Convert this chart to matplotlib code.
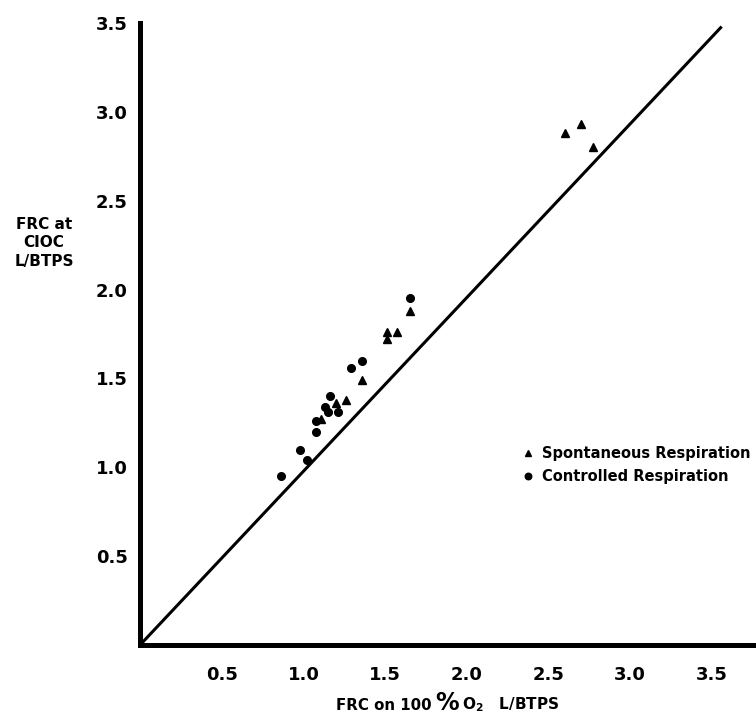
import matplotlib.pyplot as plt

# FRC values (L/BTPS)
spont_x = [2.60, 2.70, 2.77, 1.51, 1.51, 1.57, 1.65, 1.36, 1.26, 1.20, 1.11]
spont_y = [2.88, 2.93, 2.80, 1.76, 1.72, 1.76, 1.88, 1.49, 1.38, 1.36, 1.27]

ctrl_x = [1.65, 1.36, 1.29, 1.16, 1.13, 1.15, 1.21, 1.08, 1.08, 0.98, 1.02, 0.86]
ctrl_y = [1.95, 1.60, 1.56, 1.40, 1.34, 1.31, 1.31, 1.26, 1.20, 1.10, 1.04, 0.95]

# line of identity as drawn in the figure
line_x = [0.0, 3.56]
line_y = [0.0, 3.48]

ticks = [0.5, 1.0, 1.5, 2.0, 2.5, 3.0, 3.5]
tick_labels = ["0.5", "1.0", "1.5", "2.0", "2.5", "3.0", "3.5"]

fig = plt.figure(figsize=(7.56, 7.17), dpi=100)
ax = fig.add_axes([0.1852, 0.1004, 0.8148, 0.8675])

ax.plot(line_x, line_y, color="black", linewidth=2.2, solid_capstyle="butt")
ax.plot(spont_x, spont_y, linestyle="none", marker="^", markersize=5.5,
        color="black", label="Spontaneous Respiration")
ax.plot(ctrl_x, ctrl_y, linestyle="none", marker="o", markersize=5.5,
        color="black", label="Controlled Respiration")

ax.set_xlim(0, 3.77)
ax.set_ylim(0, 3.5)

for side in ["top", "right"]:
    ax.spines[side].set_visible(False)
for side in ["left", "bottom"]:
    ax.spines[side].set_linewidth(3.6)

ax.set_xticks(ticks)
ax.set_xticklabels(tick_labels)
ax.set_yticks(ticks)
ax.set_yticklabels(tick_labels)
ax.tick_params(axis="both", length=0, labelsize=13)
ax.tick_params(axis="x", pad=15)
ax.tick_params(axis="y", pad=9)
for lab in ax.get_xticklabels() + ax.get_yticklabels():
    lab.set_fontweight("bold")

fig.text(44 / 756, 1 - 243 / 717, "FRC at\nCIOC\nL/BTPS", ha="center", va="center",
         fontsize=11, fontweight="bold", linespacing=1.3)

# x axis title, with the big per cent sign as in the original
ty = 1 - 705 / 717
fig.text(432 / 756, ty, "FRC on 100", ha="right", va="center",
         fontsize=10.8, fontweight="bold")
fig.text(447 / 756, ty + 0.003, "%", ha="center", va="center",
         fontsize=17, fontweight="bold")
fig.text(462 / 756, ty, "O$_\\mathbf{2}$   L/BTPS", ha="left", va="center",
         fontsize=11, fontweight="bold")

leg = ax.legend(loc="center left", bbox_to_anchor=(0.689, 0.351),
                bbox_transform=fig.transFigure, frameon=False, borderpad=0,
                borderaxespad=0, handlelength=1.0, handletextpad=0.45,
                labelspacing=0.55, prop={"size": 10.5, "weight": "bold"},
                markerscale=0.85)

fig.savefig("out.png", dpi=100)
